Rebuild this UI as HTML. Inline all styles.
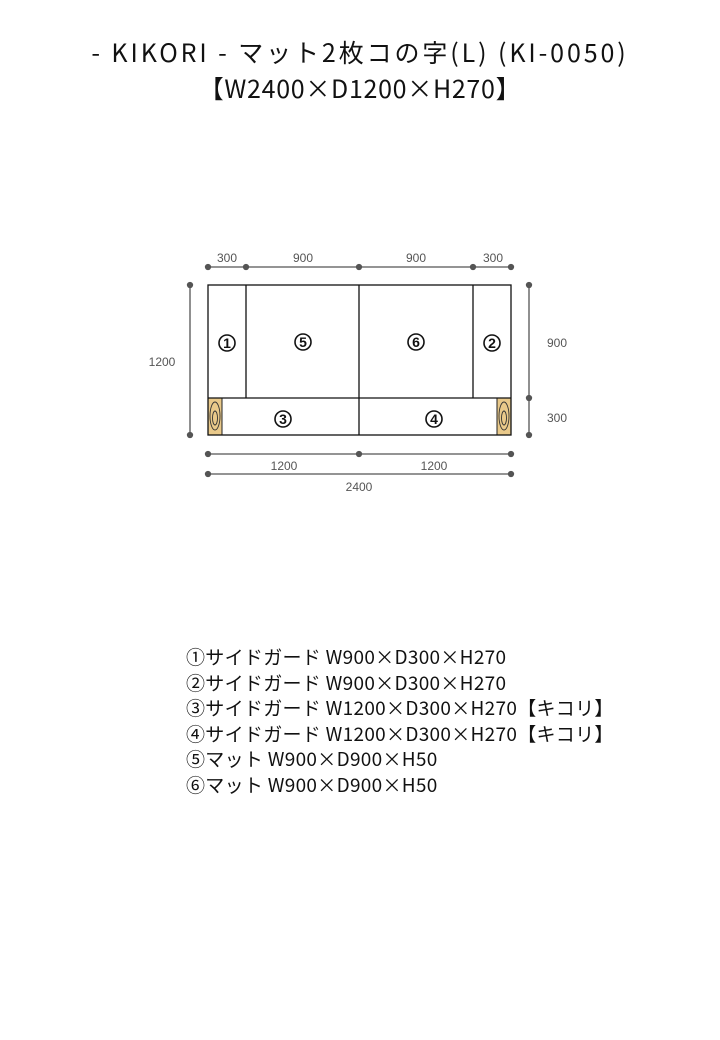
<!DOCTYPE html>
<html><head><meta charset="utf-8"><style>
body{margin:0;background:#fff;width:720px;height:1040px;overflow:hidden;font-family:"Liberation Sans","Noto Sans CJK JP",sans-serif}
.t{position:absolute;left:0;width:720px;text-align:center;font-size:25px;color:#111;font-family:"Noto Sans CJK JP",sans-serif}
.leg{position:absolute;left:186px;top:644px;font-size:19px;line-height:25.6px;color:#111;font-family:"Noto Sans CJK JP",sans-serif;white-space:pre;letter-spacing:0.3px}
</style></head><body>
<div class="t" style="top:34px;letter-spacing:2.9px">- KIKORI - マット2枚コの字(L) (KI-0050)</div>
<div class="t" style="top:70px;letter-spacing:0.7px">【W2400×D1200×H270】</div>
<svg width="720" height="1040" style="position:absolute;left:0;top:0" font-family="Liberation Sans, sans-serif">
<g stroke="#555" stroke-width="1.3" fill="#555">
<line x1="208" y1="267" x2="511" y2="267"/>
<circle cx="208" cy="267" r="2.5"/><circle cx="246" cy="267" r="2.5"/><circle cx="359" cy="267" r="2.5"/><circle cx="473" cy="267" r="2.5"/><circle cx="511" cy="267" r="2.5"/>
<line x1="190" y1="285" x2="190" y2="435"/><circle cx="190" cy="285" r="2.5"/><circle cx="190" cy="435" r="2.5"/>
<line x1="529" y1="285" x2="529" y2="435"/><circle cx="529" cy="285" r="2.5"/><circle cx="529" cy="398" r="2.5"/><circle cx="529" cy="435" r="2.5"/>
<line x1="208" y1="454" x2="511" y2="454"/><circle cx="208" cy="454" r="2.5"/><circle cx="359" cy="454" r="2.5"/><circle cx="511" cy="454" r="2.5"/>
<line x1="208" y1="474" x2="511" y2="474"/><circle cx="208" cy="474" r="2.5"/><circle cx="511" cy="474" r="2.5"/>
</g>
<g fill="#555" font-size="12" text-anchor="middle">
<text x="227" y="262">300</text><text x="303" y="262">900</text><text x="416" y="262">900</text><text x="493" y="262">300</text>
<text x="162" y="366">1200</text><text x="557" y="347">900</text><text x="557" y="422">300</text>
<text x="284" y="470">1200</text><text x="434" y="470">1200</text><text x="359" y="491">2400</text>
</g>
<rect x="208" y="398" width="14" height="37" fill="#e9c98a" stroke="#222"/>
<rect x="497" y="398" width="14" height="37" fill="#e9c98a" stroke="#222"/>
<g fill="none" stroke="#333" stroke-width="0.9">
<ellipse cx="215" cy="416" rx="5" ry="14"/><ellipse cx="215" cy="418" rx="2.5" ry="7"/>
<ellipse cx="504" cy="416" rx="5" ry="14"/><ellipse cx="504" cy="418" rx="2.5" ry="7"/>
</g>
<g fill="none" stroke="#111" stroke-width="1.3">
<rect x="208" y="285" width="303" height="150"/>
<line x1="246" y1="285" x2="246" y2="398"/><line x1="359" y1="285" x2="359" y2="435"/><line x1="473" y1="285" x2="473" y2="398"/>
<line x1="208" y1="398" x2="511" y2="398"/>
</g>
<g font-size="14" font-weight="bold" text-anchor="middle" fill="#111">
<g fill="none" stroke="#111" stroke-width="1.6">
<circle cx="227" cy="343" r="8"/><circle cx="303" cy="342" r="8"/><circle cx="416" cy="342" r="8"/><circle cx="492" cy="343" r="8"/><circle cx="283" cy="419" r="8"/><circle cx="434" cy="419" r="8"/>
</g>
<text x="227" y="348">1</text><text x="303" y="347">5</text><text x="416" y="347">6</text><text x="492" y="348">2</text><text x="283" y="424">3</text><text x="434" y="424">4</text>
</g>
</svg>
<div class="leg">①サイドガード W900×D300×H270
②サイドガード W900×D300×H270
③サイドガード W1200×D300×H270【キコリ】
④サイドガード W1200×D300×H270【キコリ】
⑤マット W900×D900×H50
⑥マット W900×D900×H50</div>
</body></html>
